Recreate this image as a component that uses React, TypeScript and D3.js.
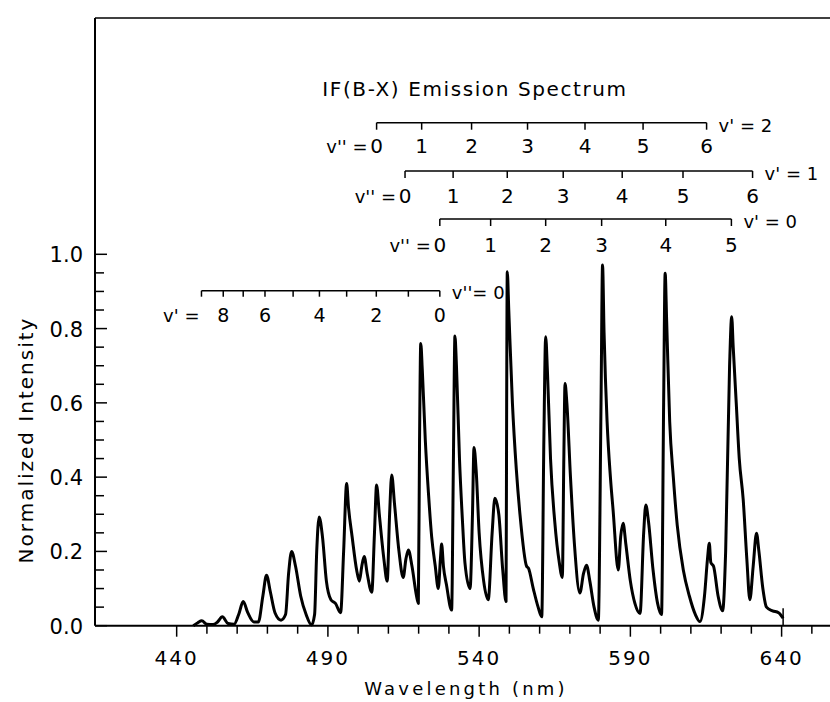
import React from 'react'
import * as d3 from 'd3'

// IF(B-X) emission spectrum
const wavelength = [
  445.5, 447, 448.3, 450, 452, 453.5, 455.1, 457, 459, 460.5, 462.0, 463.5, 465.5, 467, 468.5, 469.7,
  471, 472.5, 474.5, 476, 477, 478, 479.3, 481, 482.8, 484.6, 485.6, 486.3, 487.1, 488.2, 489.5, 491,
  492.5, 494.2, 495.2, 496.2, 496.8, 498, 499.5, 500.4, 501.2, 502.0, 503, 504.5, 505.4, 506.1, 507,
  508.5, 509.6, 510.4, 511.1, 512, 513.5, 514.9, 515.8, 516.6, 517.8, 519.3, 519.9, 520.3, 520.7, 521.2,
  522.2, 523.3, 524.3, 525.5, 526.5, 527.2, 527.6, 528.2, 529.2, 530.9, 531.5, 532, 532.5, 533.5, 534.5,
  535.3, 537, 537.8, 538.3, 539, 540, 541.5, 543.0, 544.3, 545.2, 546.5, 547.8, 548.9, 549.1, 549.3,
  549.8, 551, 552.3, 553.5, 555.7, 556.3, 557.9, 559.5, 560.7, 561.4, 562, 562.6, 563.6, 565, 566.5,
  567.5, 568, 568.4, 569, 570.2, 571.5, 573.3, 574.5, 575.5, 576.6, 578, 579.4, 580.3, 580.8, 581.3,
  582.3, 583.4, 584.3, 586, 586.8, 587.6, 588.5, 590, 591.5, 593.2, 594.4, 595.1, 596, 597.5, 599,
  600.3, 601, 601.5, 602, 603, 604.2, 605.5, 607.5, 609.5, 611.5, 613.0, 614.5, 615.5, 616.1, 616.6,
  617.5, 619, 620.5, 621.5, 622.8, 623.5, 624, 625, 626, 627.3, 628.5, 629.5, 630.6, 631.7, 632.5,
  633.8, 635, 637, 639, 640.5,
]
const intensity = [
  0.0, 0.008, 0.013, 0.004, 0.003, 0.01, 0.024, 0.006, 0.004, 0.03, 0.065, 0.035, 0.01, 0.01, 0.08, 0.136,
  0.09, 0.035, 0.015, 0.03, 0.14, 0.2, 0.16, 0.08, 0.03, 0.002, 0.03, 0.2, 0.293, 0.24, 0.12, 0.07,
  0.06, 0.035, 0.2, 0.383, 0.32, 0.24, 0.15, 0.12, 0.16, 0.186, 0.14, 0.09, 0.25, 0.379, 0.3,
  0.18, 0.12, 0.3, 0.406, 0.33, 0.2, 0.13, 0.18, 0.204, 0.16, 0.08, 0.06, 0.5, 0.76, 0.69,
  0.5, 0.35, 0.24, 0.16, 0.1, 0.18, 0.22, 0.16, 0.11, 0.042, 0.45, 0.78, 0.7, 0.45, 0.28,
  0.17, 0.1, 0.3, 0.48, 0.42, 0.25, 0.12, 0.07, 0.25, 0.343, 0.3, 0.15, 0.065, 0.6, 0.953,
  0.85, 0.6, 0.42, 0.3, 0.16, 0.155, 0.1, 0.05, 0.024, 0.5, 0.778, 0.68, 0.45, 0.28, 0.17,
  0.13, 0.45, 0.652, 0.6, 0.4, 0.22, 0.088, 0.14, 0.163, 0.12, 0.05, 0.015, 0.6, 0.971, 0.79,
  0.55, 0.4, 0.31, 0.15, 0.24, 0.276, 0.22, 0.12, 0.06, 0.033, 0.25, 0.325, 0.28, 0.15, 0.06,
  0.03, 0.6, 0.949, 0.82, 0.55, 0.4, 0.27, 0.15, 0.08, 0.03, 0.011, 0.08, 0.18, 0.222, 0.17,
  0.16, 0.08, 0.04, 0.2, 0.7, 0.832, 0.75, 0.6, 0.45, 0.34, 0.18, 0.07, 0.16, 0.249, 0.2,
  0.1, 0.05, 0.04, 0.035, 0.02,
]

// band positions (nm) for the assignment ladders
const vUp2 = [506.1, 521.0, 537.5, 556.0, 575.0, 594.2, 615.2]
const vUp1 = [515.5, 531.4, 549.3, 567.8, 587.3, 607.4, 630.4]
const vUp0 = [527.0, 543.8, 562.0, 580.5, 601.7, 623.4]
const vLow0 = [448.2, 455.4, 462.0, 469.2, 478.5, 487.2, 496.2, 506.0, 516.6, 527.0] // v' = 9 .. 0
const vLow0Labels = ['', '8', '', '6', '', '4', '', '2', '', '0']

const xTicks = [440, 490, 540, 590, 640]
const xMinor = d3.range(440, 651, 10)
const yTicks = [0, 0.2, 0.4, 0.6, 0.8, 1.0]
const yMinor = d3.range(0, 1.001, 0.05)

const W = 830
const H = 702
const font = "'DejaVu Sans', sans-serif"

export default function App() {
  const x = d3.scaleLinear().domain([413, 656]).range([95, 830])
  const y = d3.scaleLinear().domain([0, 1]).range([625.7, 254.3])
  const top = 18
  const pts: [number, number][] = wavelength.map((w, i) => [w, intensity[i]])
  const line = d3.line<[number, number]>().x(d => x(d[0])).y(d => y(d[1])).curve(d3.curveMonotoneX)

  const rows = [
    { bands: vUp2, ly: 122.7, ty: 153, name: "v' = 2" },
    { bands: vUp1, ly: 171, ty: 203, name: "v' = 1" },
    { bands: vUp0, ly: 219, ty: 252, name: "v' = 0" },
  ]
  const lowY = 290.7
  const last = pts[pts.length - 1]

  return (
    <div style={{ position: 'absolute', left: 0, top: 0 }}>
      <svg width={W} height={H} style={{ display: 'block', background: '#fff' }} fontFamily={font}>
        {/* frame */}
        <line x1={95} x2={W} y1={top} y2={top} stroke="#000" strokeWidth={1.5} />
        <line x1={95} x2={95} y1={top} y2={y(0)} stroke="#000" strokeWidth={2} />
        <line x1={95} x2={W} y1={y(0)} y2={y(0)} stroke="#000" strokeWidth={2} />

        {/* x axis */}
        {xMinor.map(t => (
          <line key={'xm' + t} x1={x(t)} x2={x(t)} y1={y(0)} y2={y(0) + (t % 50 === 40 ? 11 : 8)} stroke="#000" strokeWidth={1.5} />
        ))}
        {xTicks.map(t => (
          <text key={'xt' + t} x={x(t)} y={665} textAnchor="middle" fontSize={20} letterSpacing={2}>{t}</text>
        ))}
        <text x={466} y={695} textAnchor="middle" fontSize={18} letterSpacing={3.2}>Wavelength (nm)</text>

        {/* y axis */}
        {yMinor.map(t => (
          <line key={'ym' + t.toFixed(2)} x1={95} x2={95 + (Math.round(t * 100) % 20 === 0 ? 12 : 9)} y1={y(t)} y2={y(t)} stroke="#000" strokeWidth={1.5} />
        ))}
        {yTicks.map(t => (
          <text key={'yt' + t} x={83} y={y(t) + 8} textAnchor="end" fontSize={21}>{t.toFixed(1)}</text>
        ))}
        <text transform="translate(33,440) rotate(-90)" textAnchor="middle" fontSize={20} letterSpacing={2}>Normalized Intensity</text>

        {/* title */}
        <text x={475} y={96} textAnchor="middle" fontSize={20} letterSpacing={1.6}>IF(B-X) Emission Spectrum</text>

        {/* v'' = 0 .. n progressions */}
        {rows.map(r => (
          <g key={r.name}>
            <line x1={x(r.bands[0])} x2={x(r.bands[r.bands.length - 1])} y1={r.ly} y2={r.ly} stroke="#000" strokeWidth={1.5} />
            {r.bands.map((b, i) => (
              <g key={i}>
                <line x1={x(b)} x2={x(b)} y1={r.ly} y2={r.ly + 7} stroke="#000" strokeWidth={1.5} />
                <text x={x(b)} y={r.ty} textAnchor="middle" fontSize={20}>{i}</text>
              </g>
            ))}
            <text x={x(r.bands[0]) - 9} y={r.ty} textAnchor="end" fontSize={18}>v'' =</text>
            <text x={x(r.bands[r.bands.length - 1]) + 12} y={r.ly + 9} fontSize={18}>{r.name}</text>
          </g>
        ))}

        {/* v' progression into v'' = 0 */}
        <line x1={x(vLow0[0])} x2={x(vLow0[vLow0.length - 1])} y1={lowY} y2={lowY} stroke="#000" strokeWidth={1.5} />
        {vLow0.map((b, i) => (
          <g key={'lo' + i}>
            <line x1={x(b)} x2={x(b)} y1={lowY} y2={lowY + 6} stroke="#000" strokeWidth={1.5} />
            {vLow0Labels[i] && <text x={x(b)} y={321.5} textAnchor="middle" fontSize={19}>{vLow0Labels[i]}</text>}
          </g>
        ))}
        <text x={x(vLow0[0]) - 2} y={321.5} textAnchor="end" fontSize={18}>v' =</text>
        <text x={x(vLow0[vLow0.length - 1]) + 12} y={lowY + 8} fontSize={18}>v''= 0</text>

        {/* spectrum */}
        <path d={line(pts) ?? ''} fill="none" stroke="#000" strokeWidth={3} strokeLinejoin="round" />
        <line x1={x(last[0])} x2={x(last[0])} y1={y(0)} y2={y(last[1]) - 10} stroke="#000" strokeWidth={1.5} />
      </svg>
    </div>
  )
}
